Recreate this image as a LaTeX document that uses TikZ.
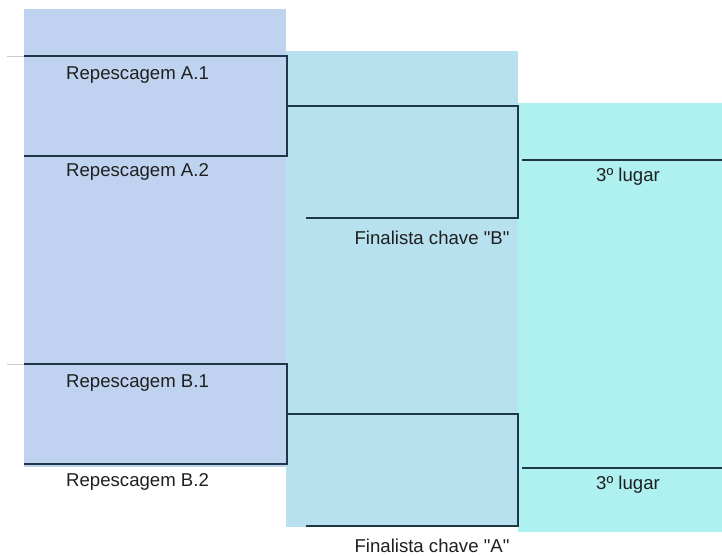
\documentclass[tikz,border=0pt]{standalone}
\usepackage{fontspec}
\setmainfont{Liberation Sans}
\definecolor{roundA}{RGB}{191,211,240}
\definecolor{roundB}{RGB}{184,225,240}
\definecolor{roundC}{RGB}{175,240,240}
\definecolor{bracketline}{RGB}{30,55,70}
\begin{document}
\begin{tikzpicture}[x=1pt, y=-1pt,
  lbl/.style={inner sep=0pt, text=black!88, font=\fontsize{18.6}{20}\selectfont},
  brk/.style={draw=bracketline, line width=1.6pt}]
\useasboundingbox (0,0) rectangle (722,556);
\fill[roundA] (24,9) rectangle (286,467);
\fill[roundB] (286,51) rectangle (518,527);
\fill[roundC] (518,103) rectangle (722,532);
\coordinate (a1w) at (24,56);
\coordinate (a1e) at (287,56);
\coordinate (a2w) at (24,156);
\coordinate (a2e) at (287,156);
\coordinate (fbw) at (287,106);
\coordinate (fbe) at (518,106);
\coordinate (fbs) at (518,218);
\coordinate (fbl) at (306,218);
\coordinate (t1w) at (522,160);
\coordinate (t1e) at (722,160);
\coordinate (b1w) at (24,364);
\coordinate (b1e) at (287,364);
\coordinate (b2w) at (24,464);
\coordinate (b2e) at (287,464);
\coordinate (faw) at (287,414);
\coordinate (fae) at (518,414);
\coordinate (fas) at (518,526);
\coordinate (fal) at (306,526);
\coordinate (t2w) at (522,468);
\coordinate (t2e) at (722,468);
\coordinate (g1) at (7,56);
\coordinate (g2) at (7,364);
\draw[black!20, line width=0.6pt](g1) -- (a1w);
\draw[black!20, line width=0.6pt](g2) -- (b1w);
\draw[brk](a1w) -- (a1e) -- (a2e) -- (a2w);
\draw[brk](fbw) -- (fbe) -- (fbs) -- (fbl);
\draw[brk](t1w) -- (t1e);
\draw[brk](b1w) -- (b1e) -- (b2e) -- (b2w);
\draw[brk](faw) -- (fae) -- (fas) -- (fal);
\draw[brk](t2w) -- (t2e);
\node[lbl, anchor=west] (ra1) at (66,75){Repescagem A.1};
\node[lbl, anchor=west] (ra2) at (66,172){Repescagem A.2};
\node[lbl, anchor=west] (rb1) at (66,383){Repescagem B.1};
\node[lbl, anchor=west] (rb2) at (66,482){Repescagem B.2};
\node[lbl] (fnb) at (432,238){Finalista chave \textquotedbl B\textquotedbl};
\node[lbl] (fna) at (432,546){Finalista chave \textquotedbl A\textquotedbl};
\node[lbl] (tl1) at (628,177){3º lugar};
\node[lbl] (tl2) at (628,485){3º lugar};

\end{tikzpicture}
\end{document}
